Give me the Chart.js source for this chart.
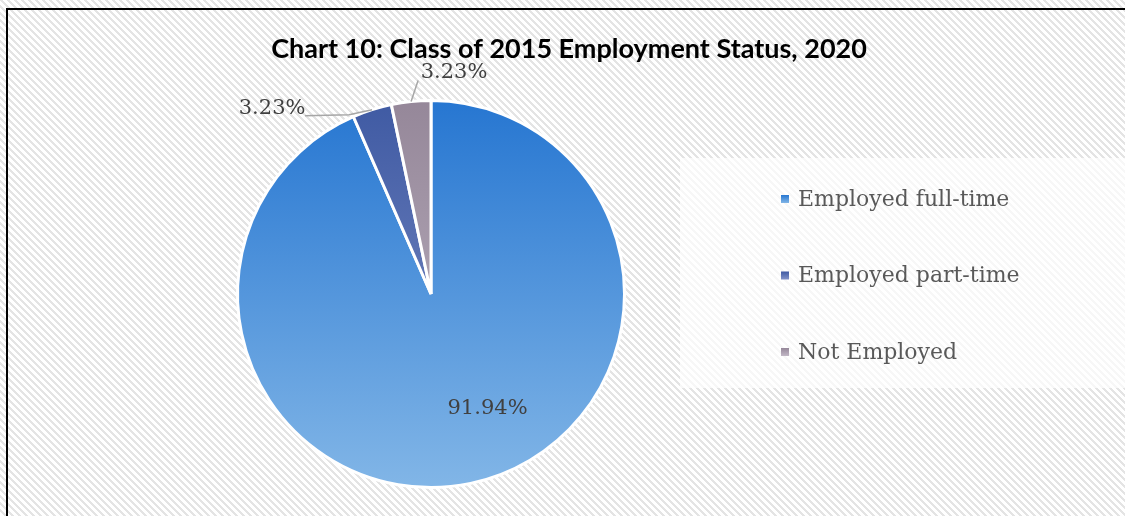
<!DOCTYPE html>
<html>
<head>
<meta charset="utf-8">
<script src="https://cdn.jsdelivr.net/npm/chart.js@4.4.0/dist/chart.umd.min.js"></script>
<style>
  body { margin: 0; background: #fff; }
  #pieChart { display: block; }
</style>
</head>
<body>
<canvas id="pieChart" width="1125" height="516"></canvas>
<script>
// chart data
var categories = ["Employed full-time", "Employed part-time", "Not Employed"];
var percentValues = [91.94, 3.23, 3.23];
var percentLabels = ["91.94%", "3.23%", "3.23%"];

var chartTitle = "Chart 10: Class of 2015 Employment Status, 2020";

// gradient stops per slice (top -> bottom of pie)
var sliceColors = [
    ["#2676d1", "#82b6e7"],
    ["#3f5aa3", "#8393c9"],
    ["#958799", "#c2b8c6"]
];

// label placement: inside label as fraction of arc / radius, outside ones as offset from rim
var labelPlacement = [
    {inside: true, along: 0.457, radius: 0.66},
    {inside: false, dx: -100, dy: -1, bend: [-23, 5], lineEnd: [-67, 6]},
    {inside: false, dx: 43, dy: -29, lineEnd: [7, -21]}
];

var serif = "'DejaVu Serif', 'Liberation Serif', serif";

function makeHatch() {
    var c = document.createElement("canvas");
    var n = 7;
    c.width = n; c.height = n;
    var g = c.getContext("2d");
    var img = g.createImageData(n, n);
    for (var y = 0; y < n; y++) {
        for (var x = 0; x < n; x++) {
            var on = ((x - y) % n + n) % n < 3;
            var v = on ? 228 : 255;
            var i = (y * n + x) * 4;
            img.data[i] = v; img.data[i + 1] = v; img.data[i + 2] = v; img.data[i + 3] = 255;
        }
    }
    g.putImageData(img, 0, 0);
    return c;
}
var hatchTile = makeHatch();

function sliceFill(context) {
    var chart = context.chart;
    var ca = chart.chartArea;
    var cols = sliceColors[context.dataIndex % sliceColors.length];
    if (!ca) return cols[0];
    var grad = chart.ctx.createLinearGradient(0, ca.top, 0, ca.bottom);
    grad.addColorStop(0, cols[0]);
    grad.addColorStop(1, cols[1]);
    return grad;
}

var backdropPlugin = {
    id: "backdrop",
    beforeDraw: function(chart) {
        var ctx = chart.ctx;
        ctx.save();
        ctx.fillStyle = ctx.createPattern(hatchTile, "repeat");
        ctx.fillRect(0, 0, chart.width, chart.height);
        // frame
        ctx.fillStyle = "#000";
        ctx.fillRect(6, 8, chart.width - 6, 2);
        ctx.fillRect(6, 8, 2, chart.height - 8);
        // legend box
        ctx.fillStyle = "rgba(255,255,255,0.7)";
        ctx.fillRect(680, 158, chart.width - 680, 230);
        // title
        ctx.fillStyle = "#000";
        ctx.font = "bold 27px Lato, 'Open Sans', sans-serif";
        ctx.textAlign = "center";
        ctx.textBaseline = "alphabetic";
        ctx.fillText(chartTitle, 569, 58);
        ctx.restore();
    }
};

var legendPlugin = {
    id: "sideLegend",
    afterDraw: function(chart) {
        var ctx = chart.ctx;
        ctx.save();
        ctx.font = "22px " + serif;
        ctx.textBaseline = "middle";
        ctx.textAlign = "left";
        for (var i = 0; i < categories.length; i++) {
            var y = 199 + i * 76.5;
            var cols = sliceColors[i];
            var g = ctx.createLinearGradient(0, y - 4, 0, y + 4);
            g.addColorStop(0, cols[0]);
            g.addColorStop(1, cols[1]);
            ctx.fillStyle = g;
            ctx.fillRect(781, y - 4, 8, 8);
            ctx.fillStyle = "#595959";
            ctx.fillText(categories[i], 798, y + 1);
        }
        ctx.restore();
    }
};

var labelPlugin = {
    id: "pctLabels",
    afterDatasetsDraw: function(chart) {
        var ctx = chart.ctx;
        var meta = chart.getDatasetMeta(0);
        ctx.save();
        ctx.font = "21px " + serif;
        ctx.textAlign = "center";
        ctx.textBaseline = "middle";
        meta.data.forEach(function(arc, i) {
            var p = arc.getProps(["x", "y", "startAngle", "endAngle", "outerRadius"], true);
            var lp = labelPlacement[i];
            if (lp.inside) {
                var a = p.startAngle + (p.endAngle - p.startAngle) * lp.along;
                var r = p.outerRadius * lp.radius;
                ctx.fillStyle = "#404040";
                ctx.fillText(percentLabels[i], p.x + Math.cos(a) * r, p.y + Math.sin(a) * r);
            } else {
                var mid = (p.startAngle + p.endAngle) / 2;
                var ex = p.x + Math.cos(mid) * p.outerRadius;
                var ey = p.y + Math.sin(mid) * p.outerRadius;
                ctx.strokeStyle = "#a6a6a6";
                ctx.lineWidth = 1.5;
                ctx.beginPath();
                ctx.moveTo(ex, ey);
                if (lp.bend) ctx.lineTo(ex + lp.bend[0], ey + lp.bend[1]);
                ctx.lineTo(ex + lp.lineEnd[0], ey + lp.lineEnd[1]);
                ctx.stroke();
                ctx.fillStyle = "#404040";
                ctx.fillText(percentLabels[i], ex + lp.dx, ey + lp.dy);
            }
        });
        ctx.restore();
    }
};

var pieData = {
    labels: categories,
    datasets: [{
        data: percentValues,
        backgroundColor: sliceFill,
        borderColor: "#ffffff",
        borderWidth: 3
    }]
};

var pieOptions = {
    responsive: false,
    animation: false,
    layout: {
        padding: {top: 99, bottom: 27, left: 236, right: 499}
    },
    plugins: {
        legend: {display: false},
        title: {display: false},
        tooltip: {enabled: false}
    }
};

var ctx = document.getElementById("pieChart").getContext("2d");
new Chart(ctx, {type: "pie", data: pieData, options: pieOptions, plugins: [backdropPlugin, labelPlugin, legendPlugin]});
</script>
</body>
</html>
